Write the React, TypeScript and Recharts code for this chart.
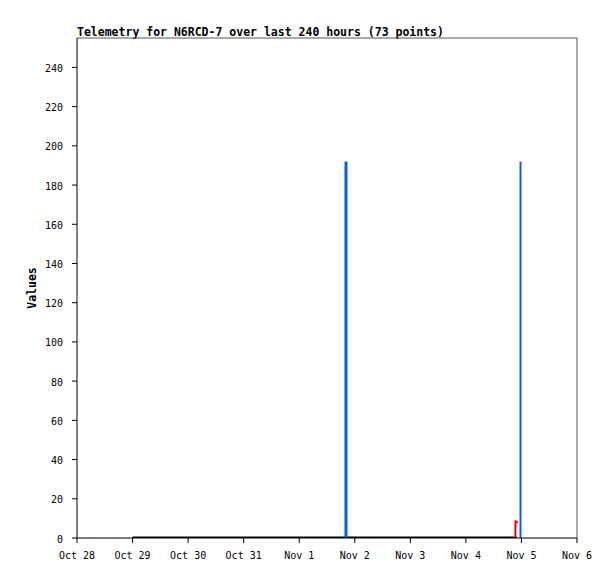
import React from "react";
import {
  LineChart,
  Line,
  XAxis,
  YAxis,
  ReferenceLine,
  Label,
} from "recharts";

// hours since Oct 28 00:00
const dayLabels = ["Oct 28", "Oct 29", "Oct 30", "Oct 31", "Nov 1", "Nov 2", "Nov 3", "Nov 4", "Nov 5", "Nov 6"];
const dayTicks = [0, 24, 48, 72, 96, 120, 144, 168, 192, 216];
const yTicks = [0, 20, 40, 60, 80, 100, 120, 140, 160, 180, 200, 220, 240];

// black series (flat at zero)
const blackTimes = [24, 48, 72, 96, 120, 144, 168, 190.1];
const blackValues = [0, 0, 0, 0, 0, 0, 0, 0];

// blue impulses
const blueTimes = [116.2, 191.6];
const blueValues = [192, 192];

// red series
const redTimes = [189.4, 189.4, 189.5, 190.5];
const redValues = [0, 9, 8, 8];

const FONT = "'DejaVu Sans Mono', 'Liberation Mono', monospace";

const zip = (ts: number[], vs: number[]) => ts.map((t, i) => ({ t, v: vs[i] }));

const blackData = zip(blackTimes, blackValues);
const redData = zip(redTimes, redValues);
const blueSpikes = blueTimes.map((t, i) => [
  { t, v: 0 },
  { t, v: blueValues[i] },
]);

export default function App() {
  return (
    <div style={{ position: "absolute", left: 0, top: 0, width: 615, height: 579, background: "#fff" }}>
      <div
        style={{
          position: "absolute",
          left: 77,
          top: 26,
          fontFamily: FONT,
          fontWeight: "bold",
          fontSize: 11.5,
          lineHeight: "12px",
          color: "#000",
          whiteSpace: "nowrap",
        }}
      >
        Telemetry for N6RCD-7 over last 240 hours (73 points)
      </div>
      <LineChart
        width={615}
        height={579}
        margin={{ top: 38, right: 38, left: 0, bottom: 11 }}
      >
        <XAxis
          dataKey="t"
          type="number"
          domain={[0, 216]}
          ticks={dayTicks}
          tickFormatter={(v: number) => dayLabels[dayTicks.indexOf(v)] ?? ""}
          interval={0}
          height={30}
          tickSize={5}
          tickMargin={9}
          stroke="#000"
          tick={{ fill: "#000", fontFamily: FONT, fontSize: 10 }}
          allowDataOverflow
        />
        <YAxis
          type="number"
          domain={[0, 255]}
          ticks={yTicks}
          interval={0}
          width={77}
          tickSize={5}
          tickMargin={9}
          stroke="#000"
          tick={{ fill: "#000", fontFamily: FONT, fontSize: 10, dy: 1 }}
          allowDataOverflow
        >
          <Label
            content={({ viewBox }: any) => {
              const cx = viewBox.x + 32;
              const cy = viewBox.y + viewBox.height / 2;
              return (
                <text
                  x={cx}
                  y={cy}
                  transform={`rotate(-90 ${cx} ${cy})`}
                  textAnchor="middle"
                  dominantBaseline="central"
                  fontFamily={FONT}
                  fontWeight="bold"
                  fontSize={11.5}
                  fill="#000"
                >
                  Values
                </text>
              );
            }}
          />
        </YAxis>
        <ReferenceLine y={255} stroke="#555" strokeWidth={1} ifOverflow="extendDomain" />
        <ReferenceLine x={216} stroke="#555" strokeWidth={1} />
        <Line
          data={blackData}
          dataKey="v"
          type="linear"
          stroke="#000"
          strokeWidth={3}
          dot={false}
          isAnimationActive={false}
        />
        <Line
          data={blueSpikes[0]}
          dataKey="v"
          type="linear"
          stroke="#0a64c8"
          strokeWidth={3}
          dot={false}
          isAnimationActive={false}
        />
        <Line
          data={blueSpikes[1]}
          dataKey="v"
          type="linear"
          stroke="#0a64c8"
          strokeWidth={2}
          dot={false}
          isAnimationActive={false}
        />
        <Line
          data={redData}
          dataKey="v"
          type="linear"
          stroke="#ff0000"
          strokeWidth={2}
          dot={false}
          isAnimationActive={false}
        />
      </LineChart>
    </div>
  );
}
